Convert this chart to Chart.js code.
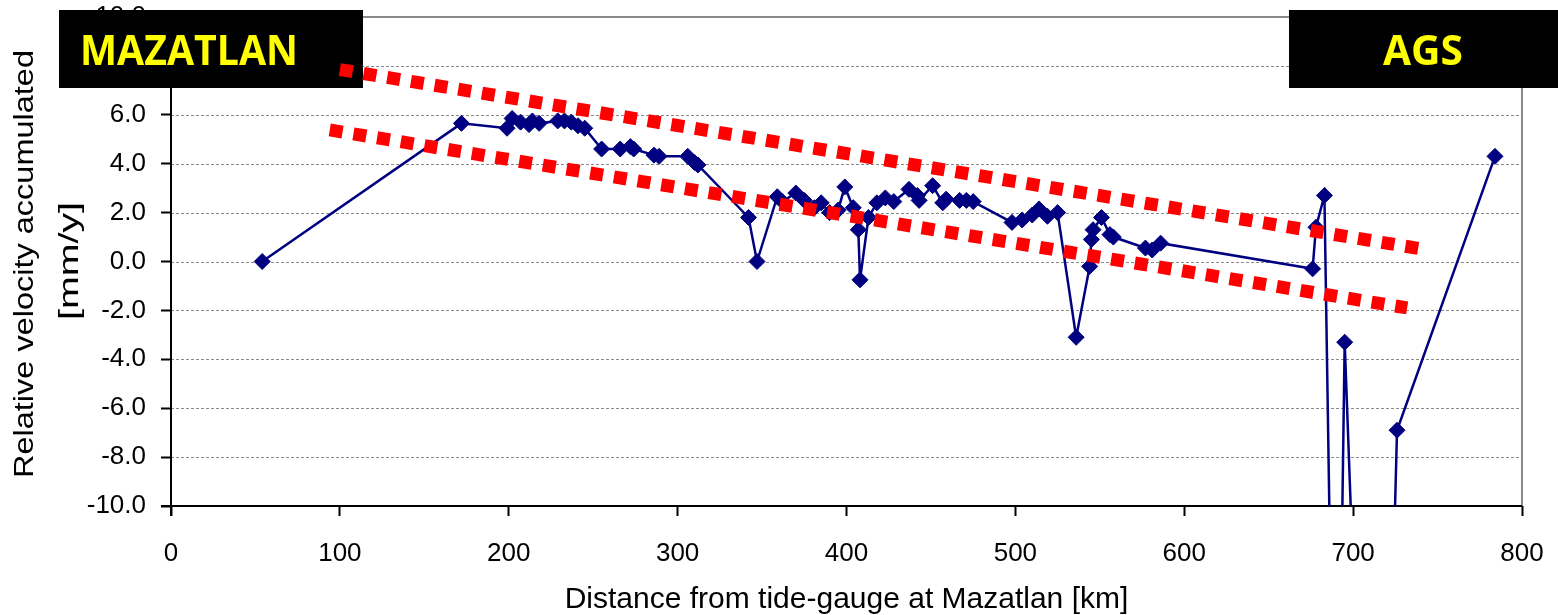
<!DOCTYPE html>
<html><head><meta charset="utf-8">
<script src="https://cdn.jsdelivr.net/npm/chart.js@4.4.1/dist/chart.umd.min.js"></script>
<style>html,body{margin:0;padding:0;background:#fff;overflow:hidden}canvas{display:block}</style>
</head><body>
<canvas id="c" width="1558" height="615"></canvas>
<script>
// ---- data ----
const distanceKm = [54,172,199,202,207,212,214,218,229,233,237,241,245,255,266,272,274,286,289,306,310,312,
  342,347,359,362,370,375,381,385,390,395,399,404,407,408,413,418,423,428,437,442,443,451,457,459,467,471,475,
  498,504,510,514,519,525,536,544,545,546,551,556,558,577,581,586,676,678,683,690,695,714,726,784];
const velocity = [0.0,5.65,5.45,5.85,5.7,5.6,5.75,5.65,5.75,5.75,5.7,5.55,5.45,4.6,4.6,4.7,4.6,4.35,4.3,4.3,4.05,3.95,
  1.8,0.0,2.65,2.45,2.8,2.5,2.2,2.4,2.0,2.1,3.05,2.2,1.3,-0.75,1.8,2.4,2.6,2.45,2.95,2.7,2.5,3.1,2.4,2.55,2.5,2.5,2.45,
  1.6,1.7,1.9,2.15,1.85,2.0,-3.1,-0.2,0.9,1.3,1.8,1.1,1.0,0.55,0.47,0.75,-0.3,1.4,2.7,-28,-3.3,-39,-6.9,4.3];
const upperTrendX = [100, 740];
const upperTrendY = [7.85, 0.52];
const lowerTrendX = [94, 732];
const lowerTrendY = [5.38, -1.9];
const xTickStep = 100, xMin = 0, xMax = 800;
const yTickStep = 2, yMin = -10, yMax = 10;
const xTitle = 'Distance from tide-gauge at Mazatlan [km]';
const yTitleLines = ['Relative velocity accumulated', '[mm/y]'];
const boxLabels = ['MAZATLAN', 'AGS'];

const pts = (xs, ys) => xs.map((x, i) => ({x, y: ys[i]}));
const FONT = '"Liberation Sans", Arial, sans-serif';

const decor = {
  id: 'decor',
  beforeDatasetsDraw(chart) {
    const {ctx, chartArea: a, scales: {y}} = chart;
    ctx.save();
    ctx.strokeStyle = '#8a8a8a'; ctx.lineWidth = 1; ctx.setLineDash([3, 2]);
    y.ticks.forEach(t => {
      if (t.value <= yMin || t.value >= yMax) return;
      const py = Math.round(y.getPixelForValue(t.value)) + 0.5;
      ctx.beginPath(); ctx.moveTo(a.left, py); ctx.lineTo(a.right, py); ctx.stroke();
    });
    ctx.setLineDash([]); ctx.lineWidth = 2; ctx.strokeStyle = '#8a8a8a';
    ctx.beginPath(); ctx.moveTo(a.left, a.top); ctx.lineTo(a.right, a.top); ctx.lineTo(a.right, a.bottom); ctx.stroke();
    // black axis lines
    ctx.strokeStyle = '#000'; ctx.lineWidth = 2;
    ctx.beginPath(); ctx.moveTo(a.left, a.top); ctx.lineTo(a.left, a.bottom + 10); ctx.stroke();
    ctx.beginPath(); ctx.moveTo(a.left - 10, a.bottom); ctx.lineTo(a.right, a.bottom); ctx.stroke();
    // black label boxes (below the data, above the axis labels)
    const boxes = [
      {x: 59, y: 10, w: 304, h: 78, tx: 80, tw: 218},
      {x: 1289, y: 10, w: 269, h: 78, tx: 1383, tw: 80}
    ];
    boxes.forEach((b, i) => {
      ctx.fillStyle = '#000';
      ctx.fillRect(b.x, b.y, b.w, b.h);
      ctx.font = 'bold 42px "Open Sans", ' + FONT;
      ctx.fillStyle = '#ffff00';
      ctx.textBaseline = 'alphabetic'; ctx.textAlign = 'left';
      const m = ctx.measureText(boxLabels[i]).width;
      ctx.save();
      ctx.translate(b.tx, 65);
      ctx.scale(b.tw / m, 1);
      ctx.fillText(boxLabels[i], 0, 0);
      ctx.restore();
    });
    ctx.restore();
  },
  afterDraw(chart) {
    const {ctx} = chart;
    ctx.save();
    const lines = [{text: yTitleLines[0], bx: 33, cy: 264, len: 428}, {text: yTitleLines[1], bx: 78, cy: 261, len: 118}];
    ctx.fillStyle = '#000';
    ctx.font = '27px ' + FONT;
    lines.forEach(l => {
      const m = ctx.measureText(l.text).width;
      ctx.save();
      ctx.translate(l.bx, l.cy);
      ctx.rotate(-Math.PI / 2);
      ctx.scale(l.len / m, 1);
      ctx.textAlign = 'center'; ctx.textBaseline = 'alphabetic';
      ctx.fillText(l.text, 0, 0);
      ctx.restore();
    });
    ctx.restore();
  }
};

new Chart(document.getElementById('c'), {
  type: 'line',
  data: {
    datasets: [
      {data: pts(upperTrendX, upperTrendY), borderColor: '#ff0000', borderWidth: 13, borderDash: [13, 11],
       borderCapStyle: 'butt', pointRadius: 0, fill: false, tension: 0, clip: false},
      {data: pts(lowerTrendX, lowerTrendY), borderColor: '#ff0000', borderWidth: 13, borderDash: [13, 11],
       borderCapStyle: 'butt', pointRadius: 0, fill: false, tension: 0, clip: false},
      {data: pts(distanceKm, velocity), borderColor: '#000080', borderWidth: 2.5, backgroundColor: '#000080',
       pointStyle: 'rectRot', pointRadius: 8, pointBorderWidth: 1, pointBackgroundColor: '#000080',
       pointBorderColor: '#000080', fill: false, tension: 0}
    ]
  },
  options: {
    responsive: false, animation: false, devicePixelRatio: 1,
    layout: {padding: {left: 0, right: 36, top: 17, bottom: 0}},
    plugins: {legend: {display: false}, tooltip: {enabled: false}},
    scales: {
      x: {
        type: 'linear', min: xMin, max: xMax,
        afterFit: s => { s.height = 109; s.paddingLeft = 0; s.paddingRight = 0; },
        border: {display: false},
        grid: {drawOnChartArea: false, drawTicks: true, tickLength: 10, tickColor: '#000', tickWidth: 2},
        ticks: {stepSize: xTickStep, color: '#000', padding: 22, font: {family: FONT, size: 26}, maxRotation: 0,
                callback: v => String(v)},
        title: {display: true, text: xTitle, color: '#000', font: {family: FONT, size: 30, lineHeight: 1.0}, padding: {top: 0, bottom: 0}}
      },
      y: {
        type: 'linear', min: yMin, max: yMax,
        afterFit: s => { s.width = 171; s.paddingTop = 0; s.paddingBottom = 0; },
        border: {display: false},
        grid: {drawOnChartArea: false, drawTicks: true, tickLength: 10, tickColor: '#000', tickWidth: 2},
        ticks: {stepSize: yTickStep, color: '#000', padding: 15, font: {family: FONT, size: 26},
                callback: v => Number(v).toFixed(1)}
      }
    }
  },
  plugins: [decor]
});
</script>
</body></html>
